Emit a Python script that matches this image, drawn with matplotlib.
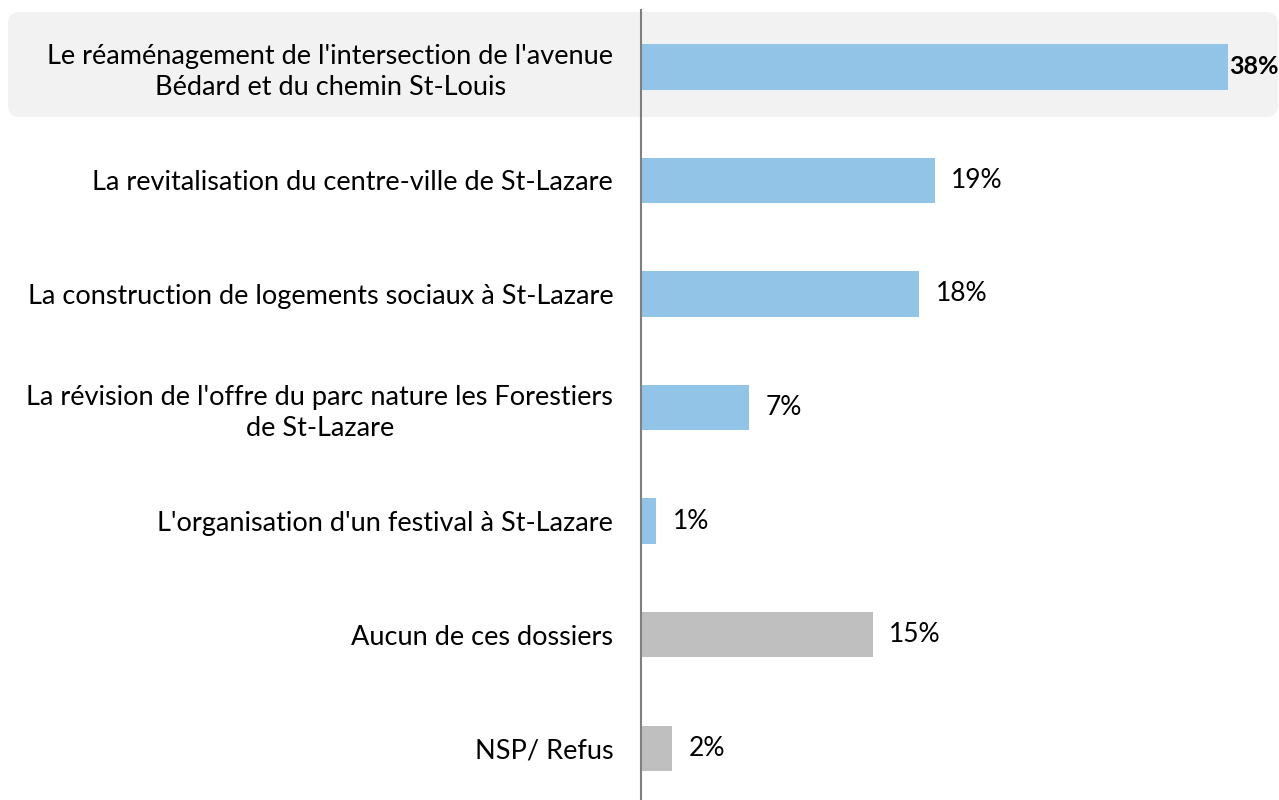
import matplotlib
matplotlib.use('Agg')
import matplotlib.pyplot as plt
from matplotlib.patches import FancyBboxPatch

labels = [
    "Le réaménagement de l'intersection de l'avenue\nBédard et du chemin St-Louis",
    "La revitalisation du centre-ville de St-Lazare",
    "La construction de logements sociaux à St-Lazare",
    "La révision de l'offre du parc nature les Forestiers\nde St-Lazare",
    "L'organisation d'un festival à St-Lazare",
    "Aucun de ces dossiers",
    "NSP/ Refus",
]
values = [38, 19, 18, 7, 1, 15, 2]
colors = ['#92C4E7'] * 5 + ['#BFBFBF'] * 2

plt.rcParams['font.family'] = ['Lato', 'DejaVu Sans']

W, H = 1279, 800
fig = plt.figure(figsize=(W / 100, H / 100), dpi=100)

# background layer in pixel units for the highlighted first row
bg = fig.add_axes([0, 0, 1, 1], zorder=0)
bg.set_xlim(0, W)
bg.set_ylim(H, 0)
bg.axis('off')
bg.add_patch(FancyBboxPatch((20, 24), 1246, 81, boxstyle='round,pad=12',
                            facecolor='#F2F2F2', edgecolor='none'))

ax = fig.add_axes([641 / W, -5 / H, 1 - 641 / W, 795 / H], zorder=1)
ax.patch.set_alpha(0)

y = range(len(values))
ax.barh(y, values, height=0.4, color=colors)
ax.set_xlim(0, 41.3)
ax.set_ylim(len(values) - 0.5, -0.5)

for i, v in enumerate(values):
    if i == 0:
        ax.annotate(f'{v}%', (v, i), xytext=(1, 0), textcoords='offset points',
                    va='center', ha='left', fontsize=18, fontweight='bold')
    else:
        ax.annotate(f'{v}%', (v, i), xytext=(12, 0), textcoords='offset points',
                    va='center', ha='left', fontsize=19)

ax.set_yticks(list(y))
ax.set_yticklabels(labels, fontsize=19.5, multialignment='center', linespacing=1.3)
ax.tick_params(axis='y', length=0, pad=20)
ax.set_xticks([])
for s in ['top', 'right', 'bottom']:
    ax.spines[s].set_visible(False)
ax.spines['left'].set_color('#7F7F7F')
ax.spines['left'].set_linewidth(1.5)

fig.savefig('out.png', dpi=100)
